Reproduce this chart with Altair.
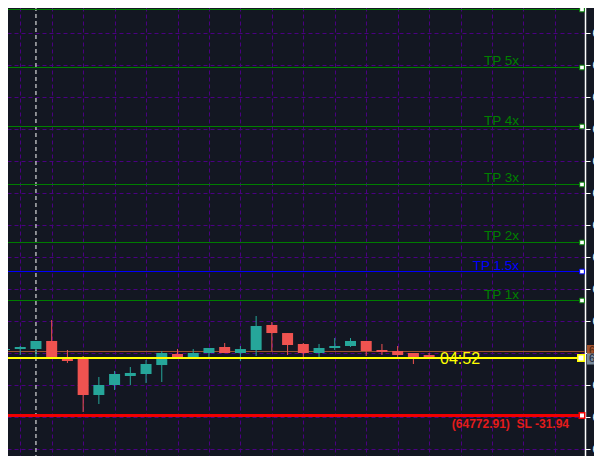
import altair as alt
import pandas as pd

# ---- data ----
idx = list(range(28))
opens = [64854.7, 64856.2, 64856.2, 64868.8, 64840.6, 64840.6, 64784.4, 64800.0, 64814.1, 64817.2,
         64831.2, 64848.4, 64842.2, 64850.0, 64859.4, 64850.0, 64854.7, 64893.8, 64881.2, 64864.1,
         64850.0, 64857.8, 64860.9, 64868.8, 64854.7, 64853.1, 64850.0, 64846.9]
highs = [64856.5, 64860.9, 64868.8, 64901.6, 64854.7, 64845.3, 64812.5, 64821.9, 64828.1, 64839.1,
         64853.1, 64856.2, 64856.2, 64857.8, 64865.6, 64860.9, 64907.8, 64898.4, 64881.2, 64865.6,
         64864.1, 64873.4, 64873.4, 64868.8, 64864.1, 64860.9, 64850.0, 64850.0]
lows = [64854.5, 64846.9, 64840.6, 64840.6, 64834.4, 64757.8, 64770.3, 64792.2, 64800.0, 64803.1,
        64804.7, 64842.2, 64840.6, 64843.8, 64850.0, 64837.5, 64845.3, 64853.1, 64846.9, 64843.8,
        64843.8, 64854.7, 64859.4, 64845.3, 64846.9, 64843.8, 64832.8, 64842.2]
closes = [64856.2, 64859.4, 64868.8, 64843.8, 64837.5, 64784.4, 64800.0, 64817.2, 64818.8, 64832.8,
          64850.0, 64842.2, 64850.0, 64857.8, 64850.0, 64856.2, 64892.2, 64881.2, 64862.5, 64850.0,
          64857.8, 64860.9, 64868.8, 64853.1, 64851.6, 64846.9, 64843.8, 64842.2]

tp_labels = ["TP 6x", "TP 5x", "TP 4x", "TP 3x", "TP 2x", "TP 1x"]
tp_prices = [65386.7, 65296.1, 65203.9, 65113.3, 65022.7, 64932.0]
half_label = ["TP 1.5x"]
half_price = [64977.3]

sl_price = 64752.3
sl_text = "(64772.91)\u00a0\u00a0SL -31.94"
last_price = 64842.2
last_label = "64842.20"
entry_price = 64852.3
entry_label = "64852.30"
timer_text = "04:52"
marker_index = [2]

y_ticks = list(range(64700, 65401, 50))
x_grid = list(range(1, 37, 2))

# ---- styles ----
BG = "#131722"
GRID = "#4b0082"
UP, DOWN = "#26a69a", "#ef5350"
GREEN, BLUE = "#008000", "#0000ff"
RED = "#f00000"
YELLOW = "#ffff00"
BROWN = "#a0522d"
SLATE = "#778899"
FONT = "Liberation Sans"

candles = pd.DataFrame(dict(i=idx, o=opens, h=highs, l=lows, c=closes))
tps = pd.DataFrame(dict(label=tp_labels, price=tp_prices))
half = pd.DataFrame(dict(label=half_label, price=half_price))
sl = pd.DataFrame(dict(price=[sl_price], text=[sl_text]))
last = pd.DataFrame(dict(price=[last_price], text=[timer_text], lab=[last_label]))
entry = pd.DataFrame(dict(price=[entry_price], lab=[entry_label]))
vmark = pd.DataFrame(dict(i=marker_index))

xs = alt.Scale(domain=[0.03125, 36.59375], nice=False, zero=False)
ys = alt.Scale(domain=[64676.5625, 65401.5625], nice=False, zero=False)
xaxis = alt.Axis(values=x_grid, grid=True, labels=False, ticks=False, domain=False, title=None,
                 gridColor=GRID, gridDash=[4, 3], gridWidth=1)
yaxis = alt.Axis(orient="right", values=y_ticks, grid=True, title=None, format="d",
                 gridColor=GRID, gridDash=[4, 3], gridWidth=1,
                 labelColor="white", labelFont=FONT, labelFontSize=11, labelPadding=2,
                 labelFlush=False, labelOverlap=False, labelBaseline="middle",
                 tickColor="white", tickSize=5, tickWidth=1,
                 domainColor="white", domainWidth=1.5)

def Y(field):
    return alt.Y(field, scale=ys, axis=yaxis)

dir_color = alt.condition("datum.c >= datum.o", alt.value(UP), alt.value(DOWN))

wicks = alt.Chart(candles).mark_rule(strokeWidth=1).encode(
    x=alt.X("i:Q", scale=xs, axis=xaxis), y=Y("l:Q"), y2="h:Q", color=dir_color,
)
bodies = alt.Chart(candles).mark_bar(size=11).encode(
    x=alt.X("i:Q", scale=xs, axis=xaxis), y=Y("o:Q"), y2="c:Q", color=dir_color,
)

vline = alt.Chart(vmark).mark_rule(color="white", strokeDash=[4, 3], strokeWidth=1).encode(
    x=alt.X("i:Q", scale=xs, axis=xaxis)
)

def level(df, color):
    line = alt.Chart(df).mark_rule(strokeWidth=1, color=color).encode(y=Y("price:Q"))
    txt = alt.Chart(df).mark_text(align="right", baseline="alphabetic", dy=-2, fontSize=13.5,
                                  font=FONT, color=color).encode(
        x=alt.value(519), y=Y("price:Q"), text="label:N")
    sq = alt.Chart(df).mark_point(shape="square", size=22, fill="white", fillOpacity=1,
                                  stroke=color, strokeWidth=1, opacity=1).encode(
        x=alt.value(582), y=Y("price:Q"))
    return line, txt, sq

tp_line, tp_txt, tp_sq = level(tps, GREEN)
h_line, h_txt, h_sq = level(half, BLUE)

entry_line = alt.Chart(entry).mark_rule(color=BROWN, strokeWidth=1).encode(y=Y("price:Q"))
last_line = alt.Chart(last).mark_rule(color=YELLOW, strokeWidth=2).encode(y=Y("price:Q"))
sl_line = alt.Chart(sl).mark_rule(color=RED, strokeWidth=3).encode(y=Y("price:Q"))

timer = alt.Chart(last).mark_text(align="left", baseline="middle", fontSize=16, font=FONT,
                                  color=YELLOW, dy=1).encode(
    x=alt.value(440), y=Y("price:Q"), text="text:N"
)
sl_lab = alt.Chart(sl).mark_text(align="right", baseline="alphabetic", dy=12, fontSize=12,
                                 fontWeight="bold", font=FONT, color="#e31b1b").encode(
    x=alt.value(569), y=Y("price:Q"), text="text:N"
)
last_sq = alt.Chart(last).mark_point(shape="square", size=42, fill="white", fillOpacity=1,
                                     stroke=YELLOW, strokeWidth=1.5, opacity=1).encode(
    x=alt.value(581), y=Y("price:Q")
)
sl_sq = alt.Chart(sl).mark_point(shape="square", size=30, fill="white", fillOpacity=1,
                                 stroke=RED, strokeWidth=1.5, opacity=1).encode(
    x=alt.value(582), y=Y("price:Q")
)

box_path = "M0,-0.6H2V0.6H0Z"
entry_box = alt.Chart(entry).mark_point(shape=box_path, size=340, filled=True, color=BROWN,
                                        opacity=1, yOffset=-1).encode(
    x=alt.value(587), y=Y("price:Q")
)
entry_txt = alt.Chart(entry).mark_text(align="left", baseline="middle", fontSize=11, font=FONT,
                                       color="#4a2412", dy=-1).encode(
    x=alt.value(589), y=Y("price:Q"), text="lab:N"
)
last_box = alt.Chart(last).mark_point(shape=box_path, size=340, filled=True, color=SLATE,
                                      opacity=1, yOffset=1).encode(
    x=alt.value(587), y=Y("price:Q")
)
last_txt = alt.Chart(last).mark_text(align="left", baseline="middle", fontSize=11, font=FONT,
                                     color="#1c2433", dy=1).encode(
    x=alt.value(589), y=Y("price:Q"), text="lab:N"
)

chart = alt.layer(
    vline, tp_line, h_line, entry_line, sl_line, wicks, bodies, last_line,
    tp_txt, h_txt, tp_sq, h_sq, timer, sl_lab, last_sq, sl_sq,
    entry_box, entry_txt, last_box, last_txt,
).properties(
    width=585, height=464,
    autosize=alt.AutoSizeParams(type="none"),
    padding={"left": -8, "top": -8, "right": 9, "bottom": -8},
).configure(background=BG).configure_view(stroke=None)

chart.save("out.html", embed_options={"renderer": "svg", "actions": False})
